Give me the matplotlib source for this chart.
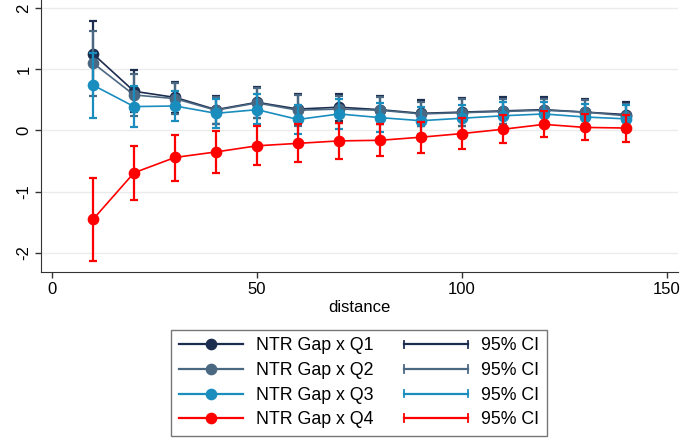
import matplotlib
matplotlib.use("Agg")
import matplotlib.pyplot as plt
from matplotlib.lines import Line2D
from matplotlib.legend_handler import HandlerBase

plt.rcParams['font.family'] = ['Liberation Sans', 'DejaVu Sans']

distance = [10, 20, 30, 40, 50, 60, 70, 80, 90, 100, 110, 120, 130, 140]

q1 = [1.25, 0.64, 0.54, 0.34, 0.46, 0.35, 0.38, 0.34, 0.28, 0.30, 0.32, 0.34, 0.30, 0.26]
q1_hi = [1.79, 0.98, 0.79, 0.57, 0.71, 0.59, 0.60, 0.57, 0.49, 0.53, 0.54, 0.54, 0.52, 0.46]
q1_lo = [0.71, 0.30, 0.29, 0.11, 0.21, 0.11, 0.16, 0.11, 0.07, 0.07, 0.10, 0.14, 0.08, 0.06]

q2 = [1.10, 0.58, 0.52, 0.33, 0.45, 0.33, 0.35, 0.33, 0.27, 0.29, 0.31, 0.33, 0.30, 0.24]
q2_hi = [1.63, 0.92, 0.77, 0.55, 0.69, 0.58, 0.57, 0.55, 0.47, 0.51, 0.52, 0.52, 0.50, 0.44]
q2_lo = [0.56, 0.24, 0.27, 0.11, 0.21, 0.08, 0.13, 0.11, 0.07, 0.07, 0.10, 0.14, 0.10, 0.04]

q3 = [0.74, 0.39, 0.40, 0.28, 0.34, 0.18, 0.27, 0.21, 0.16, 0.20, 0.24, 0.27, 0.22, 0.19]
q3_hi = [1.26, 0.72, 0.64, 0.52, 0.59, 0.42, 0.52, 0.45, 0.38, 0.42, 0.46, 0.47, 0.44, 0.41]
q3_lo = [0.21, 0.05, 0.16, 0.04, 0.10, -0.05, 0.02, -0.02, -0.06, -0.02, 0.02, 0.07, 0.00, -0.03]

q4 = [-1.45, -0.69, -0.44, -0.35, -0.25, -0.21, -0.17, -0.16, -0.11, -0.05, 0.02, 0.10, 0.05, 0.04]
q4_hi = [-0.78, -0.25, -0.07, -0.01, 0.08, 0.10, 0.13, 0.11, 0.14, 0.20, 0.25, 0.31, 0.27, 0.25]
q4_lo = [-2.13, -1.13, -0.82, -0.70, -0.57, -0.51, -0.47, -0.42, -0.37, -0.31, -0.21, -0.10, -0.16, -0.18]

labels = ["NTR Gap x Q1", "NTR Gap x Q2", "NTR Gap x Q3", "NTR Gap x Q4"]
ci_label = "95% CI"
colors = ["#1c2d4f", "#4b6882", "#1a8dbf", "#ff0000"]

series = [(q1, q1_lo, q1_hi), (q2, q2_lo, q2_hi), (q3, q3_lo, q3_hi), (q4, q4_lo, q4_hi)]

fig = plt.figure(figsize=(6.97, 4.38), dpi=100)
W, H = 697, 438
ax = fig.add_axes([41 / W, (H - 272) / H, (678 - 41) / W, 272 / H])

for (m, lo, hi), c in zip(series, colors):
    yerr = [[mm - l for mm, l in zip(m, lo)], [h - mm for mm, h in zip(m, hi)]]
    ax.errorbar(distance, m, yerr=yerr, fmt='none', ecolor=c, elinewidth=1.6,
                capsize=3.2, capthick=1.6)
    ax.plot(distance, m, color=c, lw=1.2, marker='o', ms=7.4, mec=c, mfc=c)

ax.set_xlim(-2.7, 152.7)
ax.set_ylim(-2.31, 2.13)
ax.set_xticks([0, 50, 100, 150])
ax.set_yticks([-2, -1, 0, 1, 2])
ax.set_yticklabels(["-2", "-1", "0", "1", "2"], rotation=90, va='center')
ax.tick_params(axis='both', labelsize=12, length=4, width=1, color='#333333', pad=3)
ax.grid(axis='y', color='#ebebeb', lw=1)
ax.set_axisbelow(True)
for s in ['top', 'right']:
    ax.spines[s].set_visible(False)
for s in ['left', 'bottom']:
    ax.spines[s].set_color('#333333')
ax.set_xlabel("distance", fontsize=12, labelpad=2)


class HandlerCI(HandlerBase):
    def create_artists(self, legend, orig_handle, xdescent, ydescent, width, height, fontsize, trans):
        c = orig_handle.get_color()
        y = height / 2 - ydescent
        x0, x1 = -xdescent, width - xdescent
        cap = height * 0.3
        arts = [Line2D([x0, x1], [y, y], color=c, lw=1.6),
                Line2D([x0, x0], [y - cap, y + cap], color=c, lw=1.3),
                Line2D([x1, x1], [y - cap, y + cap], color=c, lw=1.3)]
        for a in arts:
            a.set_transform(trans)
        return arts


class CIHandle(Line2D):
    pass


line_handles = [Line2D([], [], color=c, lw=1.6, marker='o', ms=7.4) for c in colors]
ci_handles = [CIHandle([], [], color=c) for c in colors]

leg = fig.legend(line_handles + ci_handles, labels + [ci_label] * 4,
                 ncol=2, loc='upper center', bbox_to_anchor=(359 / W, 1 - 330 / H),
                 fontsize=12.8, frameon=True, fancybox=False,
                 handlelength=3.6, handletextpad=0.75, columnspacing=1.7,
                 labelspacing=0.43, borderpad=0.42, borderaxespad=0,
                 handler_map={CIHandle: HandlerCI()})
leg.get_frame().set_edgecolor('#555555')
leg.get_frame().set_linewidth(1.0)

fig.savefig("out.png", dpi=100)
